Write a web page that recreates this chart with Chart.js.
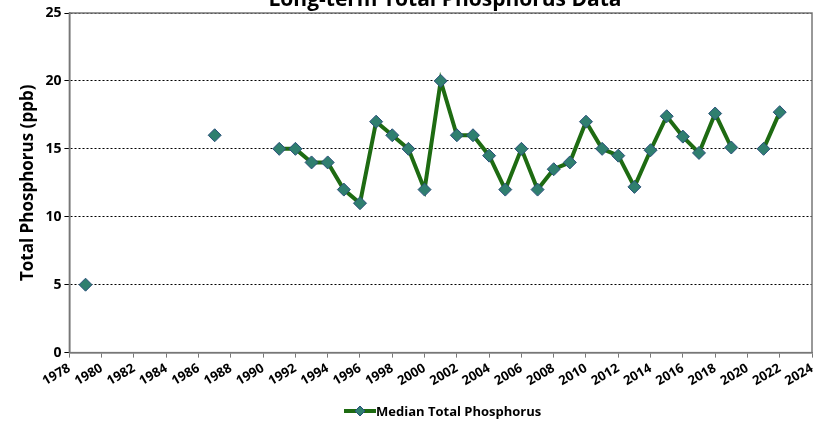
<!DOCTYPE html>
<html>
<head>
<script src="https://cdn.jsdelivr.net/npm/chart.js@4"></script>
<style>
  body { margin: 0; background: #fff; }
  #wrap { width: 824px; height: 424px; }
</style>
</head>
<body>
<div id="wrap"><canvas id="tp"></canvas></div>
<script>
const years = [1979, 1980, 1981, 1982, 1983, 1984, 1985, 1986, 1987, 1988, 1989, 1990,
  1991, 1992, 1993, 1994, 1995, 1996, 1997, 1998, 1999, 2000, 2001, 2002, 2003, 2004,
  2005, 2006, 2007, 2008, 2009, 2010, 2011, 2012, 2013, 2014, 2015, 2016, 2017, 2018,
  2019, 2020, 2021, 2022];
const medianTP = [5, null, null, null, null, null, null, null, 16, null, null, null,
  15, 15, 14, 14, 12, 11, 17, 16, 15, 12, 20, 16, 16, 14.5,
  12, 15, 12, 13.5, 14, 17, 15, 14.5, 12.2, 14.9, 17.4, 15.9, 14.7, 17.6,
  15.1, null, 15, 17.7];
const seriesName = 'Median Total Phosphorus';
const lineGreen = '#1e6b12';
const markerFill = '#2f7f6f';
const markerEdge = '#2a4f7a';
const fontFamily = "'Open Sans', sans-serif";

Chart.defaults.font.family = fontFamily;
Chart.defaults.font.weight = 'bold';
Chart.defaults.color = '#000';

// title sits partly above the canvas, and the plot has a full frame
const extras = {
  id: 'extras',
  afterDraw(chart) {
    const c = chart.ctx;
    const a = chart.chartArea;
    c.save();
    c.strokeStyle = '#777';
    c.lineWidth = 1.5;
    c.strokeRect(a.left, a.top, a.right - a.left, a.bottom - a.top);
    c.font = `bold 21px ${fontFamily}`;
    c.textAlign = 'center';
    c.fillText('Long-term Total Phosphorus Data', 445, 6);
    // legend
    const cx = 360, cy = 411;
    c.strokeStyle = lineGreen;
    c.lineWidth = 4;
    c.beginPath(); c.moveTo(cx - 16, cy); c.lineTo(cx + 16, cy); c.stroke();
    c.fillStyle = markerFill;
    c.strokeStyle = markerEdge;
    c.lineWidth = 1;
    c.beginPath();
    c.moveTo(cx, cy - 5); c.lineTo(cx + 5, cy); c.lineTo(cx, cy + 5); c.lineTo(cx - 5, cy);
    c.closePath(); c.fill(); c.stroke();
    c.fillStyle = '#000';
    c.font = `bold 13px ${fontFamily}`;
    c.textAlign = 'left';
    c.textBaseline = 'middle';
    c.fillText(seriesName, cx + 16, cy + 1);
    c.restore();
  },
};

new Chart(document.getElementById('tp'), {
  type: 'line',
  data: {
    datasets: [{
      label: seriesName,
      data: years.map((y, i) => ({ x: y, y: medianTP[i] })),
      borderColor: lineGreen,
      borderWidth: 4,
      backgroundColor: markerFill,
      pointStyle: 'rectRot',
      pointRadius: 6.5,
      pointBorderColor: markerEdge,
      pointBorderWidth: 1,
      spanGaps: false,
      tension: 0,
    }],
  },
  options: {
    animation: false,
    responsive: true,
    maintainAspectRatio: false,
    layout: { padding: { top: 13, right: 12, left: 14, bottom: 32 } },
    scales: {
      x: {
        type: 'linear',
        min: 1978,
        max: 2024,
        grid: { display: true, drawOnChartArea: false, drawTicks: true, tickLength: 5, color: '#777' },
        border: { color: '#777', width: 1.5 },
        ticks: {
          stepSize: 2,
          autoSkip: false,
          maxRotation: 30,
          minRotation: 30,
          font: { size: 13, weight: 'bold' },
          callback: (v) => String(v),
        },
      },
      y: {
        min: 0,
        max: 25,
        grid: { color: '#000', lineWidth: 1, tickLength: 5 },
        border: { color: '#777', width: 1.5, dash: [2, 2] },
        ticks: { stepSize: 5, font: { size: 14, weight: 'bold' } },
        title: { display: true, text: 'Total Phosphorus (ppb)', font: { size: 17, weight: 'bold' } },
      },
    },
    plugins: {
      legend: { display: false },
      tooltip: { enabled: false },
    },
  },
  plugins: [extras],
});
</script>
</body>
</html>
